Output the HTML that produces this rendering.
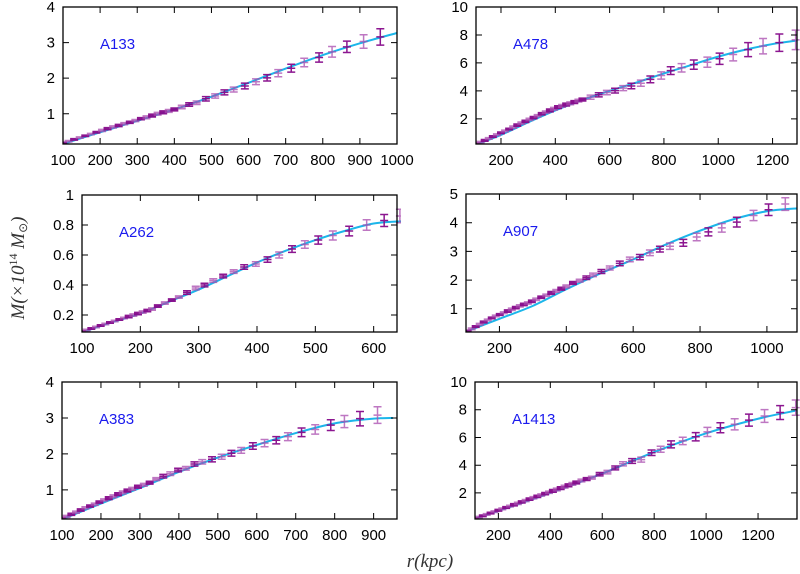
<!DOCTYPE html>
<html><head><meta charset="utf-8"><style>
html,body{margin:0;padding:0;background:#fff;}
svg{display:block;}
text{font-family:"Liberation Sans",sans-serif;}
</style></head><body>
<svg id="chart" width="800" height="574" viewBox="0 0 800 574" xmlns="http://www.w3.org/2000/svg">
<text transform="translate(24,268) rotate(-90)" text-anchor="middle" style="font-family:'Liberation Serif',serif;font-size:19px;font-style:italic;fill:#333">M(×10<tspan dy="-7" style="font-size:12px;font-style:normal">14</tspan><tspan dy="7"> M</tspan><tspan dy="3" style="font-size:12px;font-style:normal">⊙</tspan><tspan dy="-3">)</tspan></text>
<text x="430" y="567" text-anchor="middle" style="font-family:'Liberation Serif',serif;font-size:19px;font-style:italic;fill:#333">r(kpc)</text>
</svg>
<script>
// ---- A133 ----
const a133R=[100,115,130,145,160,175,190,205,220,235,250,265,280,295,310,325,340,355,370,385,400,420,440,460,485,510,535,560,590,620,650,680,715,750,790,825,865,910,955];
const a133M=[0.18,0.23,0.28,0.33,0.38,0.43,0.48,0.53,0.58,0.63,0.67,0.72,0.76,0.81,0.86,0.90,0.95,1.00,1.04,1.08,1.12,1.19,1.26,1.31,1.42,1.50,1.60,1.68,1.78,1.90,2.01,2.14,2.28,2.44,2.58,2.74,2.88,3.03,3.16];
const a133E=[0.02,0.02,0.02,0.02,0.02,0.02,0.02,0.03,0.03,0.03,0.03,0.03,0.03,0.03,0.03,0.04,0.04,0.04,0.04,0.04,0.04,0.05,0.05,0.05,0.06,0.06,0.07,0.07,0.08,0.08,0.09,0.1,0.11,0.12,0.13,0.15,0.16,0.19,0.23];
const a133FitR=[100,200,300,400,500,600,700,800,900,1000];
const a133FitM=[0.15,0.48,0.80,1.12,1.48,1.87,2.27,2.65,2.98,3.27];
// ---- A478 ----
const a478R=[110,125,140,155,170,185,200,215,230,245,260,275,290,305,320,335,350,365,380,395,410,425,440,455,470,485,500,530,560,590,620,650,680,715,750,790,825,865,910,960,1005,1055,1110,1165,1225,1285];
const a478M=[0.2,0.33,0.46,0.6,0.73,0.86,1.0,1.13,1.27,1.41,1.55,1.69,1.82,1.96,2.09,2.22,2.36,2.48,2.6,2.72,2.84,2.93,3.02,3.11,3.2,3.3,3.38,3.55,3.72,3.88,4.02,4.2,4.35,4.55,4.82,5.1,5.45,5.65,5.88,6.05,6.3,6.6,6.95,7.2,7.45,7.65];
const a478E=[0.06,0.06,0.06,0.06,0.06,0.06,0.06,0.06,0.06,0.08,0.08,0.08,0.08,0.08,0.08,0.08,0.08,0.08,0.1,0.1,0.1,0.1,0.1,0.1,0.1,0.1,0.1,0.15,0.15,0.16,0.17,0.18,0.2,0.22,0.24,0.26,0.28,0.3,0.33,0.36,0.4,0.45,0.5,0.55,0.62,0.7];
const a478FitR=[100,200,300,400,500,600,700,800,900,1000,1100,1200,1290];
const a478FitM=[0.1,0.85,1.75,2.6,3.35,4.0,4.6,5.25,5.85,6.45,6.95,7.35,7.6];
// ---- A262 ----
const a262R=[100,108,116,124,132,140,148,156,164,172,180,188,196,204,212,220,230,242,254,266,280,295,310,325,342,360,378,398,418,438,460,482,505,530,558,588,618,645];
const a262M=[0.09,0.10,0.11,0.12,0.13,0.14,0.15,0.16,0.17,0.18,0.19,0.20,0.21,0.22,0.23,0.24,0.26,0.28,0.30,0.32,0.35,0.38,0.40,0.43,0.46,0.49,0.52,0.54,0.57,0.60,0.64,0.67,0.70,0.73,0.76,0.80,0.83,0.86];
const a262E=[0.005,0.005,0.005,0.005,0.005,0.005,0.005,0.005,0.005,0.005,0.008,0.008,0.008,0.008,0.008,0.008,0.008,0.008,0.008,0.008,0.012,0.012,0.012,0.012,0.012,0.012,0.015,0.015,0.018,0.02,0.022,0.025,0.027,0.03,0.032,0.035,0.04,0.045];
const a262FitR=[100,150,200,250,300,350,400,450,500,550,600,650];
const a262FitM=[0.085,0.15,0.21,0.29,0.37,0.46,0.55,0.63,0.70,0.76,0.81,0.825];
// ---- A907 ----
const a907R=[105,117,129,141,153,165,177,189,201,213,225,237,249,261,273,285,297,310,325,340,355,370,385,400,420,440,460,480,505,530,560,590,620,650,680,710,750,790,825,865,910,960,1005,1055];
const a907M=[0.22,0.3,0.38,0.46,0.54,0.61,0.68,0.75,0.8,0.86,0.92,0.98,1.04,1.1,1.15,1.2,1.26,1.33,1.4,1.47,1.55,1.62,1.7,1.78,1.9,1.98,2.08,2.18,2.3,2.42,2.58,2.72,2.8,2.95,3.08,3.18,3.3,3.5,3.68,3.82,4.02,4.25,4.45,4.65];
const a907E=[0.03,0.03,0.03,0.03,0.03,0.03,0.03,0.03,0.03,0.03,0.04,0.04,0.04,0.04,0.04,0.04,0.04,0.04,0.04,0.04,0.05,0.05,0.05,0.05,0.05,0.05,0.06,0.06,0.07,0.07,0.08,0.08,0.09,0.1,0.1,0.11,0.12,0.13,0.14,0.15,0.17,0.18,0.2,0.22];
const a907FitR=[100,200,300,400,500,600,700,800,900,1000,1090];
const a907FitM=[0.2,0.65,1.1,1.68,2.22,2.72,3.25,3.72,4.12,4.4,4.5];
// ---- A383 ----
const a383R=[100,112,124,136,148,160,172,184,196,208,220,232,244,256,268,280,295,310,325,342,360,378,398,418,440,460,485,510,535,560,590,620,650,680,715,750,790,825,865,910];
const a383M=[0.2,0.26,0.32,0.38,0.44,0.5,0.55,0.6,0.66,0.72,0.77,0.82,0.88,0.93,0.98,1.03,1.09,1.14,1.2,1.3,1.38,1.45,1.55,1.6,1.72,1.78,1.85,1.92,2.02,2.1,2.22,2.3,2.38,2.48,2.6,2.68,2.8,2.9,2.98,3.08];
const a383E=[0.03,0.03,0.03,0.03,0.03,0.03,0.03,0.03,0.03,0.03,0.04,0.04,0.04,0.04,0.04,0.04,0.04,0.04,0.04,0.04,0.05,0.05,0.05,0.05,0.06,0.06,0.07,0.07,0.08,0.08,0.09,0.1,0.1,0.11,0.12,0.13,0.15,0.17,0.2,0.23];
const a383FitR=[100,200,300,400,500,600,700,800,900,950];
const a383FitM=[0.18,0.62,1.05,1.5,1.9,2.25,2.58,2.85,2.98,3.0];
// ---- A1413 ----
const a1413R=[110,125,140,155,170,185,200,215,230,245,260,275,290,305,320,335,350,365,380,395,410,425,440,455,470,485,500,520,540,560,590,620,650,680,715,750,790,825,865,910,960,1005,1055,1110,1165,1225,1285,1345];
const a1413M=[0.15,0.25,0.35,0.45,0.55,0.65,0.75,0.85,0.95,1.05,1.15,1.25,1.35,1.45,1.55,1.65,1.75,1.85,1.95,2.05,2.15,2.25,2.35,2.45,2.55,2.65,2.75,2.9,3.0,3.1,3.35,3.5,3.8,4.1,4.3,4.4,4.9,5.15,5.5,5.75,6.05,6.4,6.7,6.95,7.25,7.55,7.8,8.15];
const a1413E=[0.06,0.06,0.06,0.06,0.06,0.06,0.06,0.06,0.06,0.06,0.08,0.08,0.08,0.08,0.08,0.08,0.08,0.08,0.08,0.08,0.1,0.1,0.1,0.1,0.1,0.1,0.1,0.1,0.1,0.1,0.12,0.13,0.14,0.15,0.17,0.18,0.2,0.22,0.25,0.27,0.3,0.33,0.36,0.4,0.43,0.46,0.5,0.55];
const a1413FitR=[100,200,400,600,800,1000,1200,1350];
const a1413FitM=[0.1,0.7,2.0,3.4,4.95,6.3,7.35,7.95];
// ---- tick labels ----
const xTicks133=[100,200,300,400,500,600,700,800,900,1000];
const yTicks133=[1,2,3,4];
const xTicks478=[200,400,600,800,1000,1200];
const yTicks478=[2,4,6,8,10];
const xTicks262=[100,200,300,400,500,600];
const yTicks262=[0.2,0.4,0.6,0.8,1];
const xTicks907=[200,400,600,800,1000];
const yTicks907=[1,2,3,4,5];
const xTicks383=[100,200,300,400,500,600,700,800,900];
const yTicks383=[1,2,3,4];
const xTicks1413=[200,400,600,800,1000,1200];
const yTicks1413=[2,4,6,8,10];

const NS="http://www.w3.org/2000/svg";
const svg=document.getElementById('chart');
function mk(tag,attrs,parent){const e=document.createElementNS(NS,tag);for(const k in attrs)e.setAttribute(k,attrs[k]);(parent||svg).appendChild(e);return e;}

const panels=[
 {id:'a133',name:'A133',box:[63,7,397,144],xd:[100,1000],yd:[0.15,4],r:a133R,m:a133M,e:a133E,fr:a133FitR,fm:a133FitM,xt:xTicks133,yt:yTicks133},
 {id:'a478',name:'A478',box:[476,7,797,144],xd:[108,1290],yd:[0.2,10],r:a478R,m:a478M,e:a478E,fr:a478FitR,fm:a478FitM,xt:xTicks478,yt:yTicks478},
 {id:'a262',name:'A262',box:[82,195,397,332],xd:[100,640],yd:[0.087,1],r:a262R,m:a262M,e:a262E,fr:a262FitR,fm:a262FitM,xt:xTicks262,yt:yTicks262},
 {id:'a907',name:'A907',box:[466,194,797,332],xd:[100,1090],yd:[0.19,5],r:a907R,m:a907M,e:a907E,fr:a907FitR,fm:a907FitM,xt:xTicks907,yt:yTicks907},
 {id:'a383',name:'A383',box:[62,382,397,519],xd:[100,960],yd:[0.19,4],r:a383R,m:a383M,e:a383E,fr:a383FitR,fm:a383FitM,xt:xTicks383,yt:yTicks383},
 {id:'a1413',name:'A1413',box:[475,382,797,519],xd:[110,1350],yd:[0.12,10],r:a1413R,m:a1413M,e:a1413E,fr:a1413FitR,fm:a1413FitM,xt:xTicks1413,yt:yTicks1413}
];

function smoothPath(pts){
  let d='M'+pts[0][0].toFixed(2)+','+pts[0][1].toFixed(2);
  for(let i=0;i<pts.length-1;i++){
    const p0=pts[Math.max(i-1,0)],p1=pts[i],p2=pts[i+1],p3=pts[Math.min(i+2,pts.length-1)];
    const c1=[p1[0]+(p2[0]-p0[0])/6,p1[1]+(p2[1]-p0[1])/6];
    const c2=[p2[0]-(p3[0]-p1[0])/6,p2[1]-(p3[1]-p1[1])/6];
    d+=' C'+c1[0].toFixed(2)+','+c1[1].toFixed(2)+' '+c2[0].toFixed(2)+','+c2[1].toFixed(2)+' '+p2[0].toFixed(2)+','+p2[1].toFixed(2);
  }
  return d;
}

panels.forEach(p=>{
  const [x0,y0,x1,y1]=p.box;
  const sx=v=>x0+(v-p.xd[0])/(p.xd[1]-p.xd[0])*(x1-x0);
  const sy=v=>y1-(v-p.yd[0])/(p.yd[1]-p.yd[0])*(y1-y0);
  const g=mk('g',{});
  
  
  const cp=mk('clipPath',{id:'clip-'+p.id},g);
  mk('rect',{x:x0,y:y0-20,width:x1-x0+4,height:y1-y0+20},cp);
  const pts=p.fr.map((r,i)=>[sx(r),sy(p.fm[i])]);
  const fit=mk('path',{d:smoothPath(pts),fill:'none',stroke:'#1cb6ea','stroke-width':2,'clip-path':'url(#clip-'+p.id+')'},g);
  
  
  const dg=mk('g',{'clip-path':'url(#clip-'+p.id+')'},g);
  
  
  const n=Math.min(p.r.length,p.m.length,p.e.length);
  for(let i=0;i<n;i++){
    const x=sx(p.r[i]),yc=sy(p.m[i]),yt=sy(p.m[i]+p.e[i]),yb=sy(p.m[i]-p.e[i]);
    const col=(i%2===0)?'#860a8a':'#a84aae';
    const eb=mk('path',{d:`M${x-4},${yt}H${x+4}M${x},${yt}V${yb}M${x-4},${yb}H${x+4}M${x-4},${yc}H${x+4}`,stroke:col,'stroke-width':1.5,fill:'none',opacity:(i%2===0)?0.95:0.75},dg);
    
    
  }
  const fr=mk('rect',{x:x0,y:y0,width:x1-x0,height:y1-y0,fill:'none',stroke:'#000','stroke-width':1.3},g);
  
  
  p.xt.forEach(v=>{
    const x=sx(v);
    mk('path',{d:`M${x},${y1}v-6M${x},${y0}v6`,stroke:'#000','stroke-width':1},g);
    const t=mk('text',{x:x,y:y1+21,'text-anchor':'middle','font-size':15,fill:'#000'},g);
    t.textContent=v;
    
    
  });
  p.yt.forEach(v=>{
    const y=sy(v);
    mk('path',{d:`M${x0},${y}h6M${x1},${y}h-6`,stroke:'#000','stroke-width':1},g);
    const t=mk('text',{x:x0-8,y:y+5,'text-anchor':'end','font-size':15,fill:'#000'},g);
    t.textContent=v;
    
    
  });
  const lab=mk('text',{x:x0+37,y:y0+42,'font-size':15,fill:'#1a1aee'},g);
  lab.textContent=p.name;
  
  
});
</script>
</body></html>
